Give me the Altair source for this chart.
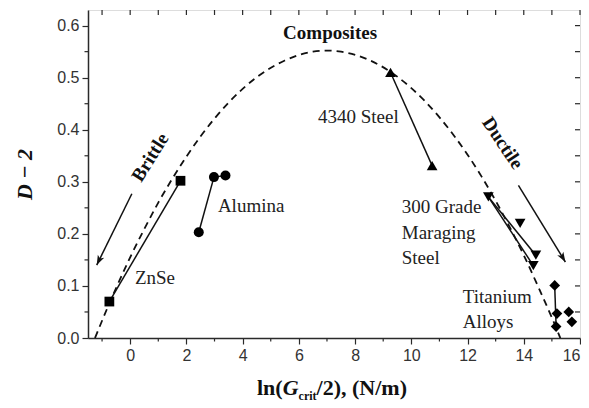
import altair as alt
import pandas as pd

# ---- data ----
curve_x = [-1.25, -0.8, -0.5, 0.0, 0.5, 1.0, 1.5, 2.5, 3.5, 4.5, 5.5, 6.5, 7.0, 7.5, 8.5, 9.5, 10.5, 11.5, 12.5, 13.5, 14.0, 14.5, 15.0, 15.3]
curve_y = [0.000, 0.059, 0.096, 0.155, 0.209, 0.260, 0.306, 0.387, 0.452, 0.501, 0.533, 0.550, 0.552, 0.550, 0.534, 0.502, 0.454, 0.390, 0.310, 0.213, 0.159, 0.100, 0.039, 0.000]

znse_x = [-0.74, 1.79]
znse_y = [0.070, 0.302]
alumina_x = [2.44, 2.98, 3.39]
alumina_y = [0.203, 0.309, 0.312]
steel4340_x = [9.26, 10.74]
steel4340_y = [0.510, 0.331]
maraging_x = [12.74, 13.87, 14.43, 14.34]
maraging_y = [0.271, 0.220, 0.159, 0.139]
titanium_x = [15.10, 15.18, 15.60, 15.71, 15.15]
titanium_y = [0.101, 0.047, 0.050, 0.031, 0.022]

# connecting segments: (series, start index, end index)
segment_pairs = [("znse", 0, 1), ("alumina", 0, 1), ("alumina", 1, 2),
                 ("steel4340", 0, 1), ("maraging", 0, 2), ("maraging", 0, 3),
                 ("titanium", 0, 4)]

arrow_names = ["Brittle", "Ductile"]
arrow_x = [0.06, 13.81]
arrow_y = [0.277, 0.293]
arrow_x2 = [-1.19, 15.48]
arrow_y2 = [0.140, 0.146]
arrow_angle = [206, 149]

plain_labels = ["4340 Steel", "Alumina", "ZnSe", "300 Grade", "Maraging", "Steel", "Titanium", "Alloys"]
plain_x = [6.68, 3.12, 0.17, 9.66, 9.66, 9.66, 11.83, 11.83]
plain_y = [0.4245, 0.2535, 0.115, 0.2516, 0.2017, 0.1537, 0.0793, 0.0313]

bold_labels = ["Composites", "Brittle", "Ductile"]
bold_x = [7.11, 0.71, 13.25]
bold_y = [0.585, 0.347, 0.3745]
bold_angle = [0, 302, 56]

x_major = [0, 2, 4, 6, 8, 10, 12, 14, 16]
x_minor = [-1, 1, 3, 5, 7, 9, 11, 13, 15]
x_all = list(range(-1, 17))
y_major = [0.0, 0.1, 0.2, 0.3, 0.4, 0.5, 0.6]
y_minor = [0.05, 0.15, 0.25, 0.35, 0.45, 0.55]
y_all = [0.05, 0.1, 0.15, 0.2, 0.25, 0.3, 0.35, 0.4, 0.45, 0.5, 0.55, 0.6]

# ---- tables ----
series = {
    "znse": (znse_x, znse_y, "square", 95),
    "alumina": (alumina_x, alumina_y, "circle", 100),
    "steel4340": (steel4340_x, steel4340_y, "triangle-up", 115),
    "maraging": (maraging_x, maraging_y, "triangle-down", 115),
    "titanium": (titanium_x, titanium_y, "diamond", 115),
}
pts = []
for name, (xs, ys, shp, sz) in series.items():
    for a, b in zip(xs, ys):
        pts.append({"series": name, "x": a, "y": b, "shape": shp, "size": sz})
pts = pd.DataFrame(pts)

segs = []
for name, i, j in segment_pairs:
    xs, ys = series[name][0], series[name][1]
    segs.append({"x": xs[i], "y": ys[i], "x2": xs[j], "y2": ys[j]})
for k in range(len(arrow_names)):
    segs.append({"x": arrow_x[k], "y": arrow_y[k], "x2": arrow_x2[k], "y2": arrow_y2[k]})
segs = pd.DataFrame(segs)

heads = pd.DataFrame({"x": arrow_x2, "y": arrow_y2, "angle": arrow_angle})
curve = pd.DataFrame({"x": curve_x, "y": curve_y})
plain = pd.DataFrame({"label": plain_labels, "x": plain_x, "y": plain_y})
bold = pd.DataFrame({"label": bold_labels, "x": bold_x, "y": bold_y, "angle": bold_angle})

W, H = 492, 328
XD = [-1.5, 16]
YD = [0, 0.63]
xs_ = alt.Scale(domain=XD, nice=False, zero=False)
ys_ = alt.Scale(domain=YD, nice=False, zero=False)
INK = "#2a2a2a"
SANS = "Liberation Sans"
SERIF = "Liberation Serif"

AX = alt.Axis(
    values=x_major, orient="bottom", grid=False, domain=True, domainColor=INK, domainWidth=1.5,
    tickSize=6, tickColor=INK, tickWidth=1.2, labelFont=SANS, labelFontSize=16,
    labelColor="#333", labelPadding=3, title=None)
AY = alt.Axis(
    values=y_major, format=".1f", orient="left", grid=False, domain=True, domainColor=INK,
    domainWidth=1.5, tickSize=6, tickColor=INK, tickWidth=1.2, labelFont=SANS,
    labelFontSize=16, labelColor="#333", labelPadding=3,
    title="D − 2", titleFont=SERIF, titleFontSize=22, titleFontStyle="italic",
    titleFontWeight="bold", titleColor="#111", titlePadding=20)

X0 = alt.X("x:Q", scale=xs_, axis=AX)
Y0 = alt.Y("y:Q", scale=ys_, axis=AY)

curve_layer = alt.Chart(curve).mark_line(
    strokeDash=[7, 5], color="#111", strokeWidth=1.8, interpolate="monotone"
).encode(x=X0, y=Y0)

# minor / inward ticks drawn as short rules at the tick values
tick_style = dict(color=INK, strokeWidth=1.2)
bottom_minor = alt.Chart(pd.DataFrame({"x": x_minor})).mark_rule(**tick_style).encode(
    x=X0, y=alt.value(H), y2=alt.value(H + 3.5))
top_ticks = alt.Chart(pd.DataFrame({"x": x_all})).mark_rule(**tick_style).encode(
    x=X0, y=alt.value(0), y2=alt.value(5))
left_minor = alt.Chart(pd.DataFrame({"y": y_minor})).mark_rule(**tick_style).encode(
    y=Y0, x=alt.value(0), x2=alt.value(-3.5))
right_ticks = alt.Chart(pd.DataFrame({"y": y_all})).mark_rule(**tick_style).encode(
    y=Y0, x=alt.value(W), x2=alt.value(W - 5))

seg_layer = alt.Chart(segs).mark_rule(color="#111", strokeWidth=1.5).encode(
    x=X0, y=Y0, x2="x2:Q", y2="y2:Q",
)

pt_layer = alt.Chart(pts).mark_point(filled=True, opacity=1, color="#000").encode(
    x=X0, y=Y0,
    shape=alt.Shape("shape:N", scale=None),
    size=alt.Size("size:Q", scale=None),
)

head_layer = alt.Chart(heads).mark_point(
    filled=True, opacity=1, color="#111", size=120,
    shape="M0,0L0.65,1.8L0,1.35L-0.65,1.8Z"
).encode(
    x=X0, y=Y0,
    angle=alt.Angle("angle:Q", scale=None),
)

plain_layer = alt.Chart(plain).mark_text(
    font=SERIF, fontSize=19, color="#222", align="left", baseline="middle"
).encode(x=X0, y=Y0, text="label:N")

bold_layer = alt.Chart(bold).mark_text(
    font=SERIF, fontSize=19, fontWeight="bold", color="#111", align="center", baseline="middle"
).encode(x=X0, y=Y0, text="label:N", angle=alt.Angle("angle:Q", scale=None))

# x-axis title pieces (G italic, "crit" subscript)
xt_text = ["ln(", "G", "/2), (N/m)"]
xt_x = [4.51, 5.43, 6.63]
xt_style = ["normal", "italic", "normal"]
xt = pd.DataFrame({"label": xt_text, "x": xt_x, "y": [-0.1095] * 3, "style": xt_style})
xt_layer_norm = alt.Chart(xt).transform_filter(alt.datum.style == "normal").mark_text(
    font=SERIF, fontSize=22, fontWeight="bold", color="#111", align="left", baseline="alphabetic"
).encode(x=X0, y=Y0, text="label:N")
xt_layer_it = alt.Chart(xt).transform_filter(alt.datum.style == "italic").mark_text(
    font=SERIF, fontSize=22, fontWeight="bold", fontStyle="italic", color="#111",
    align="left", baseline="alphabetic"
).encode(x=X0, y=Y0, text="label:N")
sub = pd.DataFrame({"label": ["crit"], "x": [5.99], "y": [-0.120]})
sub_layer = alt.Chart(sub).mark_text(
    font=SERIF, fontSize=12, fontWeight="bold", color="#111", align="left", baseline="alphabetic"
).encode(x=X0, y=Y0, text="label:N")

chart = alt.layer(
    curve_layer, bottom_minor, top_ticks, left_minor, right_ticks,
    seg_layer, pt_layer, head_layer, plain_layer, bold_layer,
    xt_layer_norm, xt_layer_it, sub_layer
).properties(
    width=W, height=H,
    autosize=alt.AutoSizeParams(type="none"),
    padding={"left": 80, "top": 2, "right": 1, "bottom": 68},
).configure_view(stroke=INK, strokeWidth=1.5).configure(background="white")

chart.save("out.html", embed_options={"renderer": "svg", "actions": False})
